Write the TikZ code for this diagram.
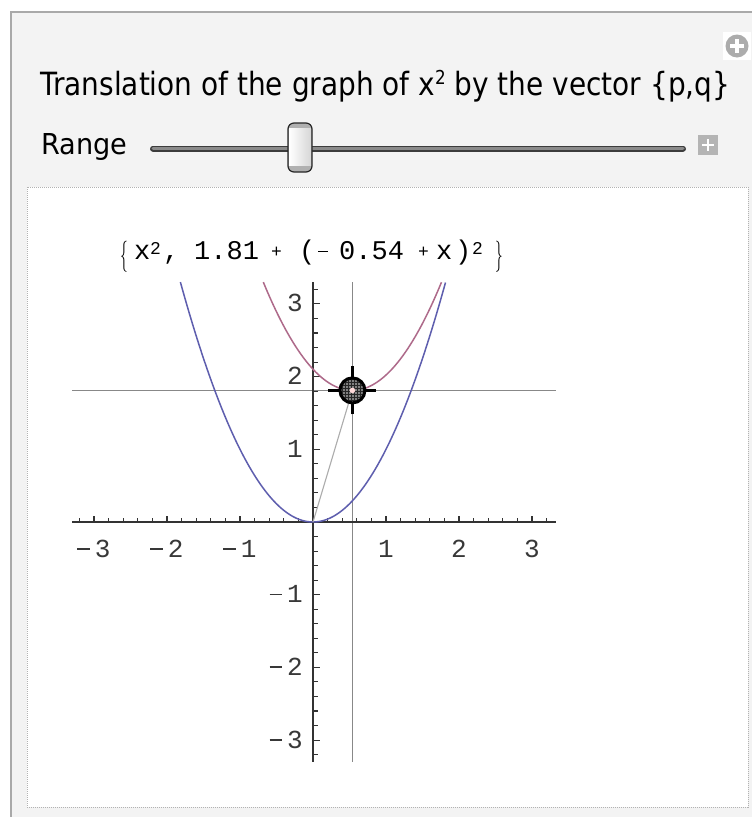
\documentclass[tikz,border=0pt]{standalone}
\usepackage{fontspec}
\setmainfont{DejaVu Sans}
\newfontfamily\monofont{Liberation Mono}
\usetikzlibrary{patterns,arrows.meta}
\definecolor{panel}{HTML}{F3F3F3}
\definecolor{framec}{HTML}{A9A9A9}
\definecolor{curveblue}{HTML}{5E5EAE}
\definecolor{curvered}{HTML}{AE6A8A}
\definecolor{axisc}{HTML}{333333}
\definecolor{crossc}{HTML}{888888}
\definecolor{trackdark}{HTML}{3C3C3C}
\definecolor{trackmid}{HTML}{8A8A8A}
\definecolor{iconc}{HTML}{B4B4B4}
\newcommand{\bracebig}[1]{\raisebox{-5.5pt}{\scalebox{0.62}[1.25]{\fontsize{25pt}{25pt}\selectfont$#1$}}}
\newcommand{\tminus}{\rule[7.5pt]{12.5pt}{1.5pt}\hspace{5pt}}
\tikzset{
  ticklab/.style={inner sep=0pt, font=\monofont\fontsize{26pt}{28pt}\selectfont, text=black!78},
  fmono/.style={inner sep=0pt, anchor=base west, font=\monofont\fontsize{27pt}{30pt}\selectfont},
  fsmall/.style={inner sep=0pt, anchor=base west, font=\monofont\fontsize{18pt}{20pt}\selectfont},
  curveline/.style={line width=1.5pt},
  axisline/.style={axisc, line width=1.3pt},
  crossline/.style={crossc, line width=1.4pt},
  minortick/.style={axisc, line width=1.1pt},
}
\begin{document}
\begin{tikzpicture}[x=1pt,y=-1pt]
\useasboundingbox (0,0) rectangle (752,817);
\fill[white] (0,0) rectangle (752,817);
\begin{scope}
\clip (0,0) rectangle (752,817);
% outer panel
\draw[framec, line width=2.5pt, fill=panel] (11,12) rectangle (775,840);
% gear icon
\fill[white] (723,32) rectangle (751,60);
\fill[gray!65] (737,46) circle (11.5);
\fill[white] (735,39) rectangle (739,53);
\fill[white] (730,44) rectangle (744,48);
\end{scope}
% title
\node[anchor=base west, inner sep=0pt] (title) at (40,95)
  {\resizebox{690pt}{\height}{\fontsize{32pt}{36pt}\selectfont Translation of the graph of x\raisebox{0.32em}{\scalebox{0.6}{2}} by the vector \{p,q\}}};
% Range label
\node[anchor=base west, inner sep=0pt] (range) at (41,154)
  {\resizebox{86pt}{\height}{\fontsize{28.8pt}{32pt}\selectfont Range}};
% slider track
\coordinate (trackL) at (153,148.5);
\coordinate (trackR) at (683,148.5);
\draw[trackdark, line width=6pt, line cap=round] (trackL) -- (trackR);
\draw[trackmid, line width=3pt, line cap=round] (trackL) -- (trackR);
% slider thumb
\fill[gray!62, rounded corners=6pt] (288,123) rectangle (312,172);
\shade[left color=white, right color=gray!32] (289,128.5) rectangle (311,165.5);
\draw[black!85, line width=1.2pt, rounded corners=6pt] (288,123) rectangle (312,172);
% plus box
\fill[iconc] (698,135) rectangle (718,155);
\draw[white, line width=1.6pt] (708,139) -- (708,151) (702,145) -- (714,145);
% plot box
\draw[gray!60, line width=1pt, dash pattern=on 1pt off 1pt, fill=white] (27,187) rectangle (748,807);
% formula
\node[fmono] (f1) at (120,259) {\bracebig{\{}};
\node[fmono] (f2) at (134,259) {x};
\node[fsmall] (f3) at (150,254) {2};
\node[fmono] (f4) at (163,259) {,};
\node[fmono] (f5) at (194,259) {1.81};
\node[fsmall] (f6) at (271,257) {+};
\node[fmono] (f7) at (299,259) {(};
\node[fmono] (f8) at (318,259) {\rule[7pt]{10pt}{1.3pt}};
\node[fmono] (f9) at (339,259) {0.54};
\node[fsmall] (f10) at (418,257) {+};
\node[fmono] (f11) at (436,259) {x};
\node[fmono] (f12) at (455,259) {)};
\node[fsmall] (f13) at (472,254) {2};
\node[fmono] (f14) at (495,259) {\bracebig{\}}};
% plot
\begin{scope}[shift={(313pt,-522pt)}, x=73pt, y=72.7pt]
  \coordinate (O) at (0,0);
  \coordinate (P) at (0.54,1.81);
  % crosshair lines
  \draw[crossline] (0.54,-3.3) -- (0.54,3.3);
  \draw[crossline] (-3.3,1.81) -- (3.33,1.81);
  % axes
  \draw[axisline] (-3.3,0) -- (3.33,0);
  \draw[axisline] (0,-3.3) -- (0,3.3);
  \foreach \i in {-16,...,16}{
    \pgfmathtruncatemacro{\r}{mod(abs(\i),5)}
    \ifnum\i=0\else
      \ifnum\r=0
        \draw[minortick] (\i/5,0) -- ++(0pt,6.5pt);
        \draw[minortick] (0,\i/5) -- ++(7pt,0pt);
      \else
        \draw[minortick] (\i/5,0) -- ++(0pt,4pt);
        \draw[minortick] (0,\i/5) -- ++(4.5pt,0pt);
      \fi
    \fi
  }
  % tick labels
  \foreach \v/\t/\n in {-3/\tminus 3/a,-2/\tminus 2/b,-1/\tminus 1/c,1/1/d,2/2/e,3/3/f}{
    \node[ticklab, anchor=base] (xl\n) at ([yshift=-35pt]\v,0) {\t};
    \node[ticklab, anchor=base east] (yl\n) at ([xshift=-10pt,yshift=-8pt]0,\v) {\t};
  }
  % curves
  \draw[curveblue, curveline] plot[domain=-1.8166:1.8166, samples=120, smooth] (\x,{\x*\x});
  \draw[curvered, curveline] plot[domain=-0.6807:1.7607, samples=120, smooth] (\x,{1.81+(\x-0.54)*(\x-0.54)});
  % translation vector
  \draw[gray!65, line width=1.1pt, -{Stealth[length=9pt,width=6pt]}] (O) -- (P);
  % locator
  \fill[black!50] (P) circle (12.5pt);
  \fill[pattern=grid, pattern color=black!85] (P) circle (12.5pt);
  \fill[red!15!white] (P) circle (2.8pt);
  \draw[black, line width=3pt] (P) circle (12.5pt);
  \draw[black, line width=3pt] ([xshift=-24pt]P) -- ([xshift=-12.5pt]P)
                               ([xshift=12.5pt]P) -- ([xshift=24pt]P)
                               ([yshift=-24pt]P) -- ([yshift=-12.5pt]P)
                               ([yshift=12.5pt]P) -- ([yshift=24pt]P);
\end{scope}
\end{tikzpicture}
\end{document}
